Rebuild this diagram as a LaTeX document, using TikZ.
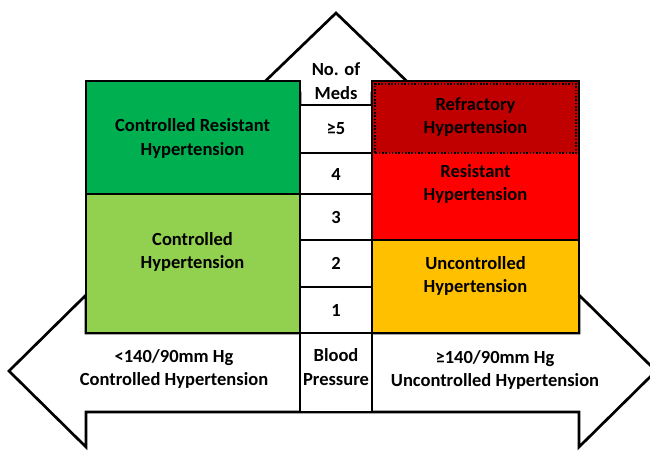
\documentclass[tikz,border=0pt]{standalone}
\usepackage{fontspec}
\setmainfont{Carlito}
\usepackage{tikz}
\usetikzlibrary{positioning}

\definecolor{darkgreen}{HTML}{00B050}
\definecolor{lightgreen}{HTML}{92D050}
\definecolor{darkred}{HTML}{C00000}
\definecolor{brightred}{HTML}{FF0000}
\definecolor{amber}{HTML}{FFC000}

\tikzset{
    outline/.style = {line width=2.3pt, line join=miter},
    thinframe/.style = {line width=1.1pt},
    dotframe/.style = {line width=1.8pt, dash pattern=on 1.4pt off 1.4pt},
    boxtext/.style = {font=\fontsize{15.8}{20}\selectfont\bfseries, align=center, inner sep=0pt},
}

\begin{document}
\begin{tikzpicture}[x=0.03cm, y=-0.03cm]
            \useasboundingbox (0, 0) rectangle (650, 451);
            \clip (0, 0) rectangle (650, 451);

            \draw [outline, fill=white]
                (336, 13) -- (419, 93) -- (372, 93) -- (372, 333)
                -- (579, 333) -- (579, 295) -- (656, 371) -- (579, 447) -- (579, 412)
                -- (86, 412) -- (86, 447) -- (9, 371) -- (86, 295) -- (86, 333)
                -- (300, 333) -- (300, 93) -- (253, 93) -- cycle
            ;

            \filldraw [outline, fill=darkgreen] (86, 81) rectangle (300, 194);
            \filldraw [outline, fill=lightgreen] (86, 194) rectangle (300, 333);

            \filldraw [outline, fill=white] (300, 105) rectangle (372, 412);
            \foreach \y in {153, 194, 240, 287, 333}
                \draw [outline] (300, \y) -- (372, \y);

            \fill [darkred] (372, 81) rectangle (579, 153);
            \fill [brightred] (372, 153) rectangle (579, 240);
            \draw [outline] (372, 153) -- (372, 240) -- (579, 240) -- (579, 153);
            \filldraw [outline, fill=amber] (372, 240) rectangle (579, 333);
            \draw [thinframe] (372, 153) -- (372, 81) -- (579, 81) -- (579, 153);
            \draw [dotframe] (375, 153) -- (375, 84) -- (576, 84) -- (576, 153) -- cycle;

            \node [boxtext] (ctrlres) at (192.5, 138.5) {Controlled Resistant\\Hypertension};
            \node [boxtext] (ctrl) at (192.5, 252) {Controlled\\Hypertension};
            \node [boxtext] (refract) at (475.5, 117) {Refractory\\Hypertension};
            \node [boxtext] (resist) at (475.5, 184) {Resistant\\Hypertension};
            \node [boxtext] (unctrl) at (475.5, 276) {Uncontrolled\\Hypertension};

            \node [boxtext] (meds) at (336, 81) {No. of\\Meds};
            \foreach \n/\y [count=\i] in {≥5/129, 4/174, 3/217, 2/263.5, 1/310}
                \node [boxtext] (med\i) at (336, \y) {\n};

            \node [boxtext] (blood) at (336, 367) {Blood\\Pressure};
            \node [boxtext] (lowbp) at (174, 369) {<140/90mm Hg\\Controlled Hypertension};
            \node [boxtext] (highbp) at (495, 370) {≥140/90mm Hg\\Uncontrolled Hypertension};
        \end{tikzpicture}
\end{document}
